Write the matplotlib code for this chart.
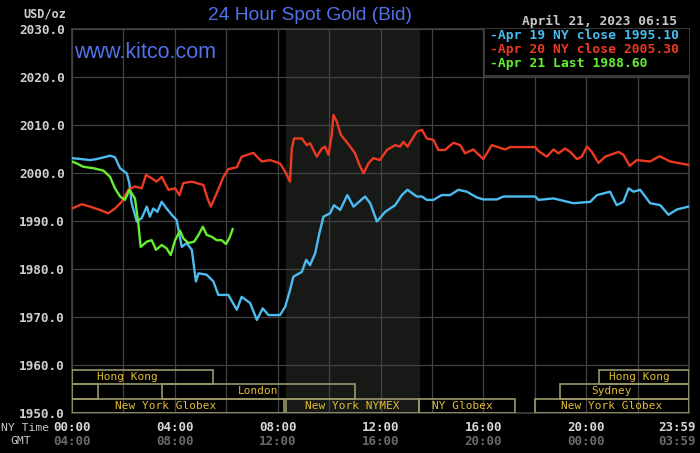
import matplotlib.pyplot as plt
from matplotlib.patches import Rectangle

# Kitco 24 hour spot gold (hours NY time, USD/oz)
t_apr19 = [0.0, 0.70, 0.96, 1.48, 1.67, 1.87, 2.13, 2.23, 2.32, 2.52, 2.71, 2.91, 3.03,
           3.16, 3.32, 3.49, 3.68, 3.88, 4.07, 4.27, 4.46, 4.66, 4.82, 4.92, 5.24, 5.50,
           5.69, 6.08, 6.41, 6.60, 6.93, 7.19, 7.42, 7.64, 8.09, 8.29, 8.48, 8.61, 8.94,
           9.11, 9.26, 9.46, 9.62, 9.78, 10.04, 10.19, 10.43, 10.71, 10.95, 11.40, 11.60,
           11.86, 12.18, 12.57, 12.83, 13.05, 13.41, 13.61, 13.80, 14.06, 14.38, 14.71,
           15.03, 15.36, 15.75, 16.0, 16.53, 16.78, 18.02, 18.14, 18.73, 19.51, 20.16,
           20.42, 20.93, 21.19, 21.45, 21.65, 21.84, 22.10, 22.49, 22.88, 23.20, 23.53,
           23.98]
p_apr19 = [2003.1, 2002.7, 2002.9, 2003.6, 2003.3, 2001.0, 1999.9, 1997.9, 1993.7, 1989.9,
           1990.6, 1993.0, 1990.9, 1992.6, 1991.9, 1994.0, 1992.6, 1991.3, 1990.2, 1984.6,
           1985.4, 1984.0, 1977.4, 1979.1, 1978.8, 1977.4, 1974.6, 1974.6, 1971.5, 1974.2,
           1972.9, 1969.4, 1971.8, 1970.4, 1970.4, 1972.1, 1975.6, 1978.4, 1979.4, 1981.9,
           1980.8, 1983.3, 1987.4, 1990.9, 1991.6, 1993.3, 1992.3, 1995.4, 1993.0, 1995.1,
           1993.7, 1989.9, 1991.9, 1993.3, 1995.4, 1996.5, 1995.1, 1995.1, 1994.4, 1994.4,
           1995.4, 1995.4, 1996.5, 1996.1, 1994.9, 1994.5, 1994.5, 1995.1, 1995.1, 1994.4,
           1994.7, 1993.7, 1994.0, 1995.4, 1996.1, 1993.3, 1994.0, 1996.8, 1996.1, 1996.5,
           1993.7, 1993.3, 1991.3, 1992.4, 1993.0]

t_apr20 = [0.0, 0.38, 0.70, 1.09, 1.41, 1.67, 1.93, 2.19, 2.45, 2.71, 2.88, 3.10, 3.29,
           3.49, 3.75, 4.01, 4.18, 4.33, 4.66, 5.11, 5.27, 5.40, 5.63, 5.89, 6.08, 6.41,
           6.60, 7.05, 7.38, 7.70, 8.09, 8.29, 8.48, 8.55, 8.64, 8.94, 9.13, 9.26, 9.52,
           9.72, 9.84, 9.98, 10.10, 10.17, 10.30, 10.46, 10.62, 10.82, 11.01, 11.18, 11.34,
           11.53, 11.72, 11.98, 12.25, 12.57, 12.76, 12.89, 13.05, 13.41, 13.61, 13.80,
           14.06, 14.25, 14.51, 14.84, 15.10, 15.29, 15.61, 16.0, 16.33, 16.85, 17.04,
           18.02, 18.14, 18.47, 18.73, 18.92, 19.18, 19.38, 19.64, 19.83, 20.03, 20.22,
           20.48, 20.74, 21.26, 21.45, 21.69, 21.97, 22.49, 22.85, 23.27, 23.66, 23.98]
p_apr20 = [1992.6, 1993.5, 1993.0, 1992.3, 1991.6, 1992.6, 1994.0, 1996.5, 1997.2, 1996.8,
           1999.6, 1998.9, 1998.2, 1999.2, 1996.5, 1996.8, 1995.4, 1997.9, 1998.2, 1997.5,
           1994.7, 1993.0, 1995.8, 1999.2, 2000.8, 2001.2, 2003.4, 2004.2, 2002.4, 2002.7,
           2002.0, 2000.3, 1998.2, 2005.1, 2007.2, 2007.2, 2005.8, 2006.2, 2003.4, 2005.1,
           2005.5, 2003.8, 2007.9, 2012.1, 2010.7, 2007.9, 2006.9, 2005.5, 2004.1, 2001.7,
           1999.9, 2002.0, 2003.1, 2002.7, 2004.8, 2005.8, 2005.5, 2006.5, 2005.5, 2008.6,
           2009.0, 2007.2, 2006.9, 2004.8, 2004.8, 2006.3, 2005.8, 2004.1, 2004.9, 2002.9,
           2005.8, 2004.9, 2005.4, 2005.4, 2004.6, 2003.4, 2004.9, 2004.1, 2005.1, 2004.4,
           2002.9, 2003.4, 2005.5, 2004.4, 2002.1, 2003.4, 2004.4, 2003.8, 2001.5, 2002.7,
           2002.4, 2003.5, 2002.4, 2002.0, 2001.7]

t_apr21 = [0.0, 0.18, 0.44, 0.83, 1.22, 1.48, 1.67, 1.87, 2.06, 2.23, 2.45, 2.58, 2.67,
           2.91, 3.10, 3.27, 3.49, 3.68, 3.84, 4.01, 4.20, 4.33, 4.53, 4.75, 4.92, 5.09,
           5.24, 5.44, 5.63, 5.82, 5.99, 6.12, 6.25]
p_apr21 = [2002.4, 2002.0, 2001.3, 2001.0, 2000.5, 1999.2, 1996.8, 1995.1, 1994.4, 1996.5,
           1994.7, 1989.5, 1984.6, 1985.7, 1986.0, 1984.0, 1985.0, 1984.3, 1982.9, 1986.0,
           1988.0, 1986.4, 1985.4, 1985.7, 1987.1, 1988.8, 1987.1, 1986.7, 1986.0, 1986.0,
           1985.2, 1986.4, 1988.3]

legend_lines = ["-Apr 19 NY close 1995.10", "-Apr 20 NY close 2005.30", "-Apr 21 Last 1988.60"]
line_colors = ["#4cbcf0", "#ec3a22", "#66ee33"]

y_ticks = [1950, 1960, 1970, 1980, 1990, 2000, 2010, 2020, 2030]
ny_hours = [0, 4, 8, 12, 16, 20, 24]
ny_labels = ["00:00", "04:00", "08:00", "12:00", "16:00", "20:00", "23:59"]
gmt_labels = ["04:00", "08:00", "12:00", "16:00", "20:00", "00:00", "03:59"]

# market sessions: (row, start hour, end hour, label), row 0 is the top one
sessions = [
    (0, 0.0, 5.5, "Hong Kong"),
    (0, 20.5, 24.0, "Hong Kong"),
    (1, 0.0, 1.0, ""),
    (1, 3.5, 11.0, "London"),
    (1, 19.0, 24.0, "Sydney"),
    (2, 0.0, 8.25, "New York Globex"),
    (2, 8.33, 13.5, "New York NYMEX"),
    (2, 13.5, 17.25, "NY Globex"),
    (2, 18.0, 24.0, "New York Globex"),
]
# where kitco puts some of the session labels (hour), others are centred
label_at = {0: 2.14, 1: 22.06, 4: 20.97, 5: 3.66, 7: 15.2}
nymex_open, nymex_close = 8 + 20 / 60, 13.5

grid_col = "#424242"
mono = "DejaVu Sans Mono"

fig = plt.figure(figsize=(7, 4.53), dpi=100, facecolor="black")
ax = fig.add_axes([72 / 700, 40 / 453, 617 / 700, 384 / 453])
ax.set_facecolor("black")
ax.set_xlim(0, 24)
ax.set_ylim(1950, 2030)

ax.axvspan(nymex_open, nymex_close, color="#161916", zorder=0)

ax.set_xticks(range(0, 25, 2))
ax.set_yticks(y_ticks)
ax.grid(True, color=grid_col, lw=0.9, zorder=1)
ax.tick_params(length=0, labelbottom=False)
ax.set_yticklabels([f"{v:.1f}" for v in y_ticks], family=mono, fontweight="bold",
                   fontsize=9.2, color="#d0d0d0")
ax.tick_params(axis="y", pad=5)
for s in ax.spines.values():
    s.set_color(grid_col)
    s.set_linewidth(1.2)

for t, p, c in zip([t_apr19, t_apr20, t_apr21], [p_apr19, p_apr20, p_apr21], line_colors):
    ax.plot(t, p, color=c, lw=1.7, zorder=3)

# session boxes at the bottom of the plot
row_h = 3.0
for i, (row, start, end, label) in enumerate(sessions):
    y0 = 1950 + (2 - row) * row_h
    ax.add_patch(Rectangle((start, y0), end - start, row_h, fill=False,
                           edgecolor="#9a9868", lw=1.2, zorder=4))
    if label:
        ax.text(label_at.get(i, (start + end) / 2), y0 + row_h / 2, label,
                ha="center", va="center", family=mono, fontsize=8, color="#e0bc34",
                zorder=5)

# legend box in the upper right
ax.add_patch(Rectangle((0.668, 0.877), 0.34, 0.13, transform=ax.transAxes,
                       facecolor="black", edgecolor=grid_col, lw=1.2, zorder=6))
for i, (txt, c) in enumerate(zip(legend_lines, line_colors)):
    ax.text(0.677, 0.982 - i * 0.0365, txt, transform=ax.transAxes, ha="left", va="center",
            family=mono, fontweight="bold", fontsize=9.4, color=c, zorder=7)

# bottom time labels
xt = ax.get_xaxis_transform()
for h, lab, g in zip(ny_hours, ny_labels, gmt_labels):
    ha = "right" if h == 24 else "center"
    xx = 24.25 if h == 24 else h
    ax.text(xx, -0.039, lab, transform=xt, ha=ha, va="center", family=mono,
            fontweight="bold", fontsize=9, color="#d8d8d8", clip_on=False)
    ax.text(xx, -0.073, g, transform=xt, ha=ha, va="center", family=mono,
            fontweight="bold", fontsize=9, color="#6a6a6a", clip_on=False)
fig.text(1 / 700, 1 - 428 / 453, "NY Time", ha="left", va="center", family=mono,
         fontsize=8.2, color="#c8c8c8")
fig.text(10 / 700, 1 - 441 / 453, "GMT", ha="left", va="center", family=mono,
         fontsize=8.2, color="#c8c8c8")

# header texts
fig.text(310 / 700, 1 - 16 / 453, "24 Hour Spot Gold (Bid)", ha="center", va="center",
         family="Liberation Sans", fontsize=13.8, color="#5272ec")
fig.text(74 / 700, 1 - 53 / 453, "www.kitco.com", ha="left", va="center",
         family="Liberation Sans", fontsize=15.5, color="#5272ec")
fig.text(66 / 700, 1 - 14 / 453, "USD/oz", ha="right", va="center", family=mono,
         fontweight="bold", fontsize=8.6, color="#d0d0d0")
fig.text(599 / 700, 1 - 21 / 453, "April 21, 2023 06:15", ha="center", va="center",
         family=mono, fontweight="bold", fontsize=9.3, color="#c8c8c8")

fig.savefig("out.png", dpi=100, facecolor="black")
